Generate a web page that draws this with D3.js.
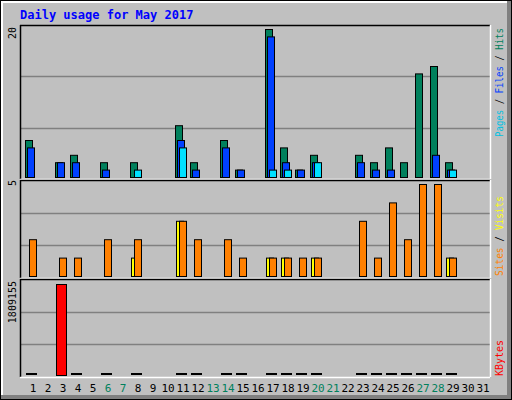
<!DOCTYPE html>
<html><head><meta charset="utf-8">
<script src="https://cdn.jsdelivr.net/npm/d3@7"></script>
<style>body{margin:0;background:#fff}text{font-family:"DejaVu Sans Mono",monospace}</style>
</head><body><svg id="c"></svg>
<script>
var days = d3.range(1, 32)
var weekends = [6,7,13,14,20,21,27,28]
var hits  = [5,0,2,3,0,2,0,2,0,0,7,2,0,5,1,0,20,4,1,3,0,0,3,2,4,2,14,15,2,0,0]
var files = [4,0,2,2,0,1,0,0,0,0,5,1,0,4,1,0,19,2,1,2,0,0,2,1,1,0,0,3,1,0,0]
var pages = [0,0,0,0,0,0,0,1,0,0,4,0,0,0,0,0,1,1,0,2,0,0,0,0,0,0,0,0,1,0,0]
var visits= [0,0,0,0,0,0,0,1,0,0,3,0,0,0,0,0,1,1,0,1,0,0,0,0,0,0,0,0,1,0,0]
var sites = [2,0,1,1,0,2,0,2,0,0,3,2,0,2,1,0,1,1,1,1,0,0,3,1,4,2,5,5,1,0,0]
var kbytes= [40,0,1809155,40,0,40,0,40,0,0,40,40,0,40,40,0,40,40,40,40,0,0,40,40,40,40,40,40,40,0,0]

var W = 512, H = 400
var svg = d3.select("#c").attr("width", W).attr("height", H)

// frame
svg.append("rect").attr("x",0).attr("y",0).attr("width",W).attr("height",H).attr("fill","#000")
svg.append("rect").attr("x",1).attr("y",1).attr("width",W-2).attr("height",H-2).attr("fill","#808080")
svg.append("rect").attr("x",1).attr("y",1).attr("width",W-6).attr("height",H-6).attr("fill","#fff")
svg.append("rect").attr("x",3).attr("y",3).attr("width",W-8).attr("height",H-8).attr("fill","#c0c0c0")

svg.append("text").attr("x",20).attr("y",19).attr("fill","#0000ff").attr("font-weight","bold")
   .attr("font-size",12).text("Daily usage for May 2017")

var x = d3.scaleLinear().domain([1, 31]).range([33, 483])
var L = 20, R = 490

function panel(top, bot, yTop) {
  var y = d3.scaleLinear().domain([0,1]).range([bot-2, yTop])
  ;[1/3, 2/3].forEach(function(f){
    var gy = Math.round(bot - (bot-top)*f) + 0.5
    svg.append("line").attr("x1",L).attr("x2",R).attr("y1",gy).attr("y2",gy).attr("stroke","#808080").attr("stroke-width",1.5)
  })
  svg.append("line").attr("x1",L).attr("x2",R).attr("y1",top+0.5).attr("y2",top+0.5).attr("stroke","#000").attr("stroke-width",1.5)
  svg.append("line").attr("x1",L+0.5).attr("x2",L+0.5).attr("y1",top).attr("y2",bot).attr("stroke","#000").attr("stroke-width",1.5)
  svg.append("line").attr("x1",L).attr("x2",R).attr("y1",bot+0.5).attr("y2",bot+0.5).attr("stroke","#fff").attr("stroke-width",1.5)
  svg.append("line").attr("x1",R+0.5).attr("x2",R+0.5).attr("y1",top).attr("y2",bot).attr("stroke","#fff").attr("stroke-width",1.5)
  return y
}

function bars(data, max, yScale, dx, w, color) {
  var y = yScale.copy().domain([0, max])
  var g = svg.append("g")
  data.forEach(function(v, i){
    if (v <= 0) return
    var h = y(0) - y(v)
    if (h < 3) {
      g.append("rect").attr("x", x(days[i])+dx).attr("y", y(0)-2)
       .attr("width", w+1).attr("height", 2).attr("fill", "#000")
    } else {
      g.append("rect").attr("x", x(days[i])+dx+0.5).attr("y", y(v)+0.5)
       .attr("width", w).attr("height", h)
       .attr("fill", color).attr("stroke","#000").attr("stroke-width",1)
    }
  })
}

function vlabel(tx, ty, parts, anchor, len) {
  var t = svg.append("text").attr("transform","translate("+tx+","+ty+") rotate(-90)")
     .attr("font-size",10).attr("text-anchor",anchor||"start")
  if (len) t.attr("textLength", len).attr("lengthAdjust","spacingAndGlyphs")
  parts.forEach(function(p){ t.append("tspan").attr("fill",p[1]).text(p[0]) })
}

var y1 = panel(25, 179, 29)
bars(hits, 20, y1, -8, 7, "#00805c")
bars(files, 20, y1, -6, 7, "#0040ff")
bars(pages, 20, y1, -4, 7, "#00e0ff")
vlabel(16, 27, [["20","#000"]], "end")
vlabel(16, 180, [["5","#000"]], "end")
vlabel(503, 137, [["Pages","#00c0e0"],[" / ","#000"],["Files","#0040ff"],[" / ","#000"],["Hits","#00805c"]], "start", 109)

var y2 = panel(180, 278, 184)
bars(visits, 5, y2, -7, 7, "#ffff00")
bars(sites, 5, y2, -4, 7, "#ff8000")
vlabel(503, 276, [["Sites","#ff8000"],[" / ","#000"],["Visits","#ffff00"]], "start", 80)

var y3 = panel(279, 377, 284)
bars(kbytes, 1809155, y3, -7, 10, "#ff0000")
vlabel(16, 281, [["1809155","#000"]], "end")
vlabel(503, 376, [["KBytes","#ff0000"]], "start", 36)

svg.append("g").selectAll("text").data(days).enter().append("text")
  .attr("x", function(d){return x(d)}).attr("y", 392).attr("text-anchor","middle")
  .attr("font-size",11)
  .attr("fill", function(d){return weekends.indexOf(d)>=0 ? "#00805c" : "#000"})
  .text(function(d){return d})
</script></body></html>
